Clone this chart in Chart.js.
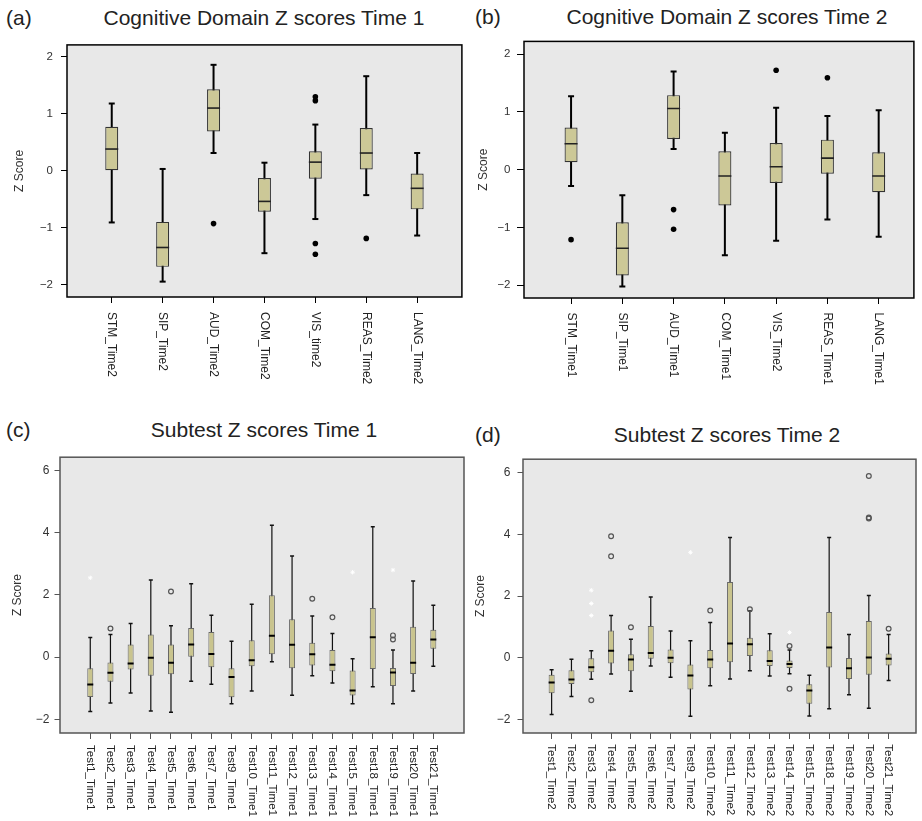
<!DOCTYPE html>
<html><head><meta charset="utf-8">
<script src="https://cdn.jsdelivr.net/npm/chart.js@4.4.1/dist/chart.umd.min.js"></script>
<style>
html,body{margin:0;padding:0;background:#fff;}
body{width:922px;height:821px;position:relative;overflow:hidden;font-family:"Liberation Sans",Arial,sans-serif;}
canvas{position:absolute;}
.t{position:absolute;font-size:21px;line-height:21px;color:#222;white-space:nowrap;}
.c{width:400px;text-align:center;}
</style></head><body>
<div class="t" style="left:6px;top:7px">(a)</div>
<div class="t c" style="left:64px;top:7px">Cognitive Domain Z scores Time 1</div>
<div class="t" style="left:475px;top:6px">(b)</div>
<div class="t c" style="left:527px;top:6px">Cognitive Domain Z scores Time 2</div>
<div class="t" style="left:6px;top:419px">(c)</div>
<div class="t c" style="left:64px;top:419px">Subtest Z scores Time 1</div>
<div class="t" style="left:475px;top:424px">(d)</div>
<div class="t c" style="left:527px;top:424px">Subtest Z scores Time 2</div>
<canvas id="ca" width="470" height="380" style="left:0;top:30px"></canvas>
<canvas id="cb" width="452" height="382" style="left:470px;top:28px"></canvas>
<canvas id="cc" width="470" height="376" style="left:0;top:445px"></canvas>
<canvas id="cd" width="452" height="376" style="left:470px;top:445px"></canvas>
<script>
// ---------- tick labels ----------
const abTicks = [-2, -1, 0, 1, 2];
const cdTicks = [-2, 0, 2, 4, 6];

// ---------- Panel (a) ----------
const aLabels = ['STM_Time2','SIP_Time2','AUD_Time2','COM_Time2','VIS_time2','REAS_Time2','LANG_Time2'];
const aLow  = [-0.91,-1.95, 0.31,-1.45,-0.85,-0.43,-1.14];
const aQ1   = [ 0.00,-1.69, 0.69,-0.72,-0.14, 0.02,-0.68];
const aMed  = [ 0.38,-1.35, 1.10,-0.54, 0.15, 0.31,-0.31];
const aQ3   = [ 0.77,-0.90, 1.43,-0.13, 0.34, 0.75,-0.05];
const aHigh = [ 1.18, 0.03, 1.86, 0.14, 0.81, 1.66, 0.31];
const aOutliers = [[2,-0.93],[4,1.30],[4,1.23],[4,-1.28],[4,-1.47],[5,-1.19]];

// ---------- Panel (b) ----------
const bLabels = ['STM_Time1','SIP_Time1','AUD_Time1','COM_Time1','VIS_Time2','REAS_Time1','LANG_Time1'];
const bLow  = [-0.28,-2.02, 0.36,-1.48,-1.23,-0.86,-1.16];
const bQ1   = [ 0.13,-1.83, 0.53,-0.62,-0.23,-0.07,-0.39];
const bMed  = [ 0.45,-1.36, 1.06,-0.11, 0.05, 0.20,-0.11];
const bQ3   = [ 0.73,-0.91, 1.29, 0.32, 0.46, 0.52, 0.30];
const bHigh = [ 1.27,-0.44, 1.70, 0.64, 1.07, 0.93, 1.03];
const bOutliers = [[0,-1.21],[2,-0.69],[2,-1.03],[4,1.72],[5,1.59]];

// ---------- Panel (c) ----------
const cLabels = ['Test1_Time1','Test2_Time1','Test3_Time1','Test4_Time1','Test5_Time1','Test6_Time1','Test7_Time1','Test9_Time1','Test10_Time1','Test11_Time1','Test12_Time1','Test13_Time1','Test14_Time1','Test15_Time1','Test18_Time1','Test19_Time1','Test20_Time1','Test21_Time1'];
const cLow  = [-1.75,-1.47,-1.15,-1.73,-1.77,-0.77,-0.87,-1.50,-1.09,-0.15,-1.22,-0.60,-0.83,-1.50,-0.95,-1.50,-1.09,-0.29];
const cQ1   = [-1.28,-0.79,-0.40,-0.60,-0.55, 0.00,-0.32,-1.29,-0.29, 0.09,-0.36,-0.27,-0.45,-1.23,-0.38,-0.93,-0.54, 0.27];
const cMed  = [-0.88,-0.50,-0.20,-0.02,-0.18, 0.41, 0.10,-0.64,-0.10, 0.69, 0.40, 0.09,-0.24,-1.07, 0.64,-0.49,-0.18, 0.57];
const cQ3   = [-0.36,-0.17, 0.41, 0.73, 0.41, 0.94, 0.81,-0.36, 0.54, 1.99, 1.22, 0.46, 0.23,-0.43, 1.58,-0.35, 0.98, 0.88];
const cHigh = [ 0.63, 0.73, 1.08, 2.48, 1.01, 2.36, 1.35, 0.51, 1.70, 4.24, 3.25, 1.32, 0.76,-0.05, 4.19, 0.23, 2.45, 1.67];
const cOutliers = [[1,0.92],[4,2.11],[11,1.88],[12,1.28],[15,0.70],[15,0.57]];
const cStars = [[0,2.55],[13,2.73],[15,2.80]];

// ---------- Panel (d) ----------
const dLabels = ['Test1_Time2','Test2_Time2','Test3_Time2','Test4_Time2','Test5_Time2','Test6_Time2','Test7_Time2','Test9_Time2','Test10_Time2','Test11_Time2','Test12_Time2','Test13_Time2','Test14_Time2','Test15_Time2','Test18_Time2','Test19_Time2','Test20_Time2','Test21_Time2'];
const dLow  = [-1.84,-1.26,-0.70,-0.53,-1.09,-0.27,-0.63,-1.90,-0.91,-0.69,-0.42,-0.59,-0.52,-1.89,-1.66,-1.20,-1.64,-0.74];
const dQ1   = [-1.15,-0.85,-0.47,-0.19,-0.44,-0.03,-0.18,-1.03,-0.34,-0.15, 0.06,-0.27,-0.33,-1.49,-0.32,-0.69,-0.55,-0.25];
const dMed  = [-0.80,-0.71,-0.31, 0.23,-0.06, 0.15, 0.00,-0.58,-0.06, 0.46, 0.44,-0.11,-0.20,-1.06, 0.33,-0.34, 0.01,-0.03];
const dQ3   = [-0.55,-0.41,-0.02, 0.88, 0.11, 1.03, 0.27,-0.22, 0.25, 2.46, 0.65, 0.24,-0.09,-0.86, 1.48,-0.01, 1.19, 0.14];
const dHigh = [-0.39,-0.05, 0.23, 1.37, 0.60, 1.97, 0.87, 0.55, 1.14, 3.90, 1.52, 0.78, 0.25,-0.57, 3.90, 0.75, 2.02, 0.75];
const dOutliers = [[2,-1.38],[3,3.94],[3,3.29],[4,0.99],[8,1.53],[10,1.57],[12,0.38],[12,-1.01],[16,5.90],[16,4.55],[16,4.52],[17,0.94]];
const dStars = [[2,2.19],[2,1.76],[2,1.37],[7,3.42],[12,0.82]];

const FONT = '"Liberation Sans", Arial, sans-serif';

const styleBig = {boxW:13, boxFill:'#ccc897', boxStroke:'#333', boxBW:1.2, whiskW:2, whiskColor:'#000', capR:3, capW:2,
  medW:1.6, medColor:'#222', outR:2.8, outFill:'#000', outStroke:'#000', outBW:0, frameColor:'#000', frameW:1.5,
  tickColor:'#000', tickFont:11.5, labelFont:12};
const styleSmall = {boxW:6, boxFill:'#c9c48e', boxStroke:'#666', boxBW:1, whiskW:1.2, whiskColor:'#111', capR:2, capW:1.5,
  medW:2, medColor:'#000', outR:2.4, outFill:'rgba(0,0,0,0)', outStroke:'#555', outBW:1.2, frameColor:'#555', frameW:1.5,
  tickColor:'#555', tickFont:12, labelFont:11.5};

function makePanel(id, P) {
  const idx = P.labels.map((_, i) => i);
  const datasets = [
    {type:'scatter', data:(P.stars||[]).map(([i,v])=>({x:i,y:v})), pointStyle:'star', pointRadius:2.2,
      pointBorderColor:'#fff', pointBackgroundColor:'#fff', pointBorderWidth:1, order:0},
    {type:'scatter', data:P.outliers.map(([i,v])=>({x:i,y:v})), pointStyle:'circle', pointRadius:P.outR,
      pointBackgroundColor:P.outFill, pointBorderColor:P.outStroke, pointBorderWidth:P.outBW, order:1},
    {type:'scatter', data:idx.map(i=>({x:i,y:P.med[i]})), pointStyle:'line', pointRadius:P.boxW/2,
      pointBorderColor:P.medColor, pointBorderWidth:P.medW, order:2},
    {type:'bar', data:idx.map(i=>({x:i,y:[P.q1[i],P.q3[i]]})), barThickness:P.boxW, maxBarThickness:P.boxW,
      backgroundColor:P.boxFill, borderColor:P.boxStroke, borderWidth:P.boxBW, borderSkipped:false,
      grouped:false, inflateAmount:0, order:3},
    {type:'scatter', data:idx.flatMap(i=>[{x:i,y:P.low[i]},{x:i,y:P.high[i]}]), pointStyle:'line', pointRadius:P.capR,
      pointBorderColor:P.whiskColor, pointBorderWidth:P.capW, order:4},
    {type:'bar', data:idx.map(i=>({x:i,y:[P.low[i],P.high[i]]})), barThickness:P.whiskW, maxBarThickness:P.whiskW,
      backgroundColor:P.whiskColor, borderWidth:0, grouped:false, inflateAmount:0, order:5}
  ];
  const framePlugin = {
    id:'frame'+id,
    beforeDraw(chart){
      const {ctx, chartArea:a} = chart;
      ctx.save(); ctx.fillStyle='#e8e8e8'; ctx.fillRect(a.left,a.top,a.right-a.left,a.bottom-a.top); ctx.restore();
    },
    afterDraw(chart){
      const {ctx, chartArea:a, scales:{x}} = chart;
      ctx.save();
      ctx.strokeStyle=P.frameColor; ctx.lineWidth=P.frameW;
      ctx.strokeRect(a.left,a.top,a.right-a.left,a.bottom-a.top);
      ctx.font = P.labelFont+'px '+FONT; ctx.fillStyle='#222';
      ctx.textAlign='left'; ctx.textBaseline='middle';
      P.labels.forEach((lab,i)=>{
        const px = x.getPixelForValue(i);
        ctx.save(); ctx.translate(px, a.bottom + P.labelOff); ctx.rotate(Math.PI/2); ctx.fillText(lab,0,0); ctx.restore();
      });
      ctx.restore();
    }
  };
  return new Chart(document.getElementById(id), {
    type:'bar',
    data:{datasets},
    options:{
      responsive:false, animation:false, events:[], devicePixelRatio:1,
      layout:{padding:P.pad},
      plugins:{legend:{display:false}, tooltip:{enabled:false}, title:{display:false}},
      scales:{
        x:{type:'linear', min:P.xMin, max:P.xMax, offset:false,
          afterBuildTicks:s=>{ s.ticks = idx.map(i=>({value:i})); },
          afterFit:s=>{ s.height = P.xAxisH; },
          ticks:{display:false},
          grid:{display:true, drawOnChartArea:false, drawTicks:true, tickLength:6, tickColor:P.tickColor, tickWidth:1, offset:false},
          border:{display:false}},
        y:{type:'linear', min:P.yMin, max:P.yMax,
          afterBuildTicks:s=>{ s.ticks = P.yTicks.map(v=>({value:v})); },
          afterFit:s=>{ s.width = P.yAxisW; },
          ticks:{autoSkip:false, padding:P.tickPad, color:'#333', font:{family:FONT, size:P.tickFont},
            callback:v=>String(v).replace('-', '\u2212')},
          grid:{display:true, drawOnChartArea:false, drawTicks:true, tickLength:P.tickLen, tickColor:P.tickColor, tickWidth:1},
          border:{display:false},
          title:{display:true, text:'Z Score', color:'#333', font:{family:FONT, size:12}, padding:{top:P.titlePad, bottom:0}}}
      }
    },
    plugins:[framePlugin]
  });
}

makePanel('ca', Object.assign({}, styleBig, {labels:aLabels, low:aLow, q1:aQ1, med:aMed, q3:aQ3, high:aHigh, outliers:aOutliers,
  yTicks:abTicks, yMin:-2.22, yMax:2.21, xMin:-0.879, xMax:6.879, pad:{left:0,right:6,top:12,bottom:0},
  yAxisW:67, xAxisH:113, tickLen:6, tickPad:8, titlePad:12.3, labelOff:15}));
makePanel('cb', Object.assign({}, styleBig, {labels:bLabels, low:bLow, q1:bQ1, med:bMed, q3:bQ3, high:bHigh, outliers:bOutliers,
  yTicks:abTicks, yMin:-2.22, yMax:2.22, xMin:-0.918, xMax:6.687, pad:{left:0,right:3,top:9,bottom:0},
  yAxisW:54, xAxisH:112, tickLen:7, tickPad:6.5, titlePad:6.8, labelOff:14.6}));
makePanel('cc', Object.assign({}, styleSmall, {labels:cLabels, low:cLow, q1:cQ1, med:cMed, q3:cQ3, high:cHigh, outliers:cOutliers, stars:cStars,
  yTicks:cdTicks, yMin:-2.437, yMax:6.427, xMin:-1.50, xMax:18.52, pad:{left:0,right:6,top:12,bottom:0},
  yAxisW:60, xAxisH:88, tickLen:5.5, tickPad:5, titlePad:10.3, labelOff:12}));
makePanel('cd', Object.assign({}, styleSmall, {labels:dLabels, low:dLow, q1:dQ1, med:dMed, q3:dQ3, high:dHigh, outliers:dOutliers, stars:dStars,
  yTicks:cdTicks, yMin:-2.443, yMax:6.443, xMin:-1.444, xMax:18.38, pad:{left:0,right:1,top:13,bottom:0},
  yAxisW:53, xAxisH:88, tickLen:5.5, tickPad:7, titlePad:3.8, labelOff:11.3}));
</script>
</body></html>
